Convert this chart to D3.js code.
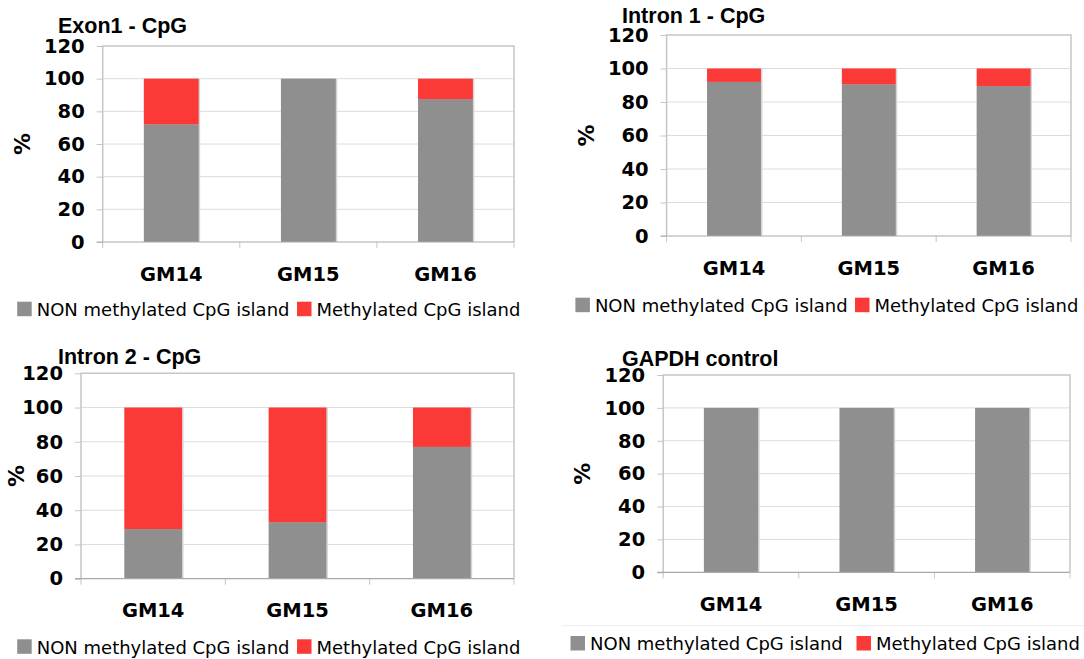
<!DOCTYPE html>
<html>
<head>
<meta charset="utf-8">
<script src="https://cdn.jsdelivr.net/npm/d3@7"></script>
<style>
  html, body { margin: 0; padding: 0; background: #fff; }
  svg { display: block; }
</style>
</head>
<body>
<svg id="chart" width="1084" height="659"></svg>
<script>
// Sample groups and series
const categories = ["GM14", "GM15", "GM16"];
const seriesNames = ["NON methylated CpG island", "Methylated CpG island"];
const yTicks = [0, 20, 40, 60, 80, 100, 120];

// Percent of CpG islands per region
const exon1NonMethylated   = [72, 100, 87.5];
const exon1Methylated      = [28, 0, 12.5];
const intron1NonMethylated = [92, 90.5, 89.5];
const intron1Methylated    = [8, 9.5, 10.5];
const intron2NonMethylated = [29, 33, 77];
const intron2Methylated    = [71, 67, 23];
const gapdhNonMethylated   = [100, 100, 100];
const gapdhMethylated      = [0, 0, 0];

const panelTitles = ["Exon1 - CpG", "Intron 1 - CpG", "Intron 2 - CpG", "GAPDH control"];
const panelSeries = [
  [exon1NonMethylated, exon1Methylated],
  [intron1NonMethylated, intron1Methylated],
  [intron2NonMethylated, intron2Methylated],
  [gapdhNonMethylated, gapdhMethylated]
];

// Panel geometry
const layout = [
  { left: 102.7, right: 514,  top: 46,    zero: 242,   titleX: 58,  titleY: 32.5,
    pctX: 22.4, legX: 17.2, legX2: 297,   legY: 301.7 },
  { left: 666.6, right: 1071, top: 35,    zero: 236,   titleX: 622, titleY: 23,
    pctX: 586,  legX: 575.4, legX2: 855,  legY: 297.7 },
  { left: 81,    right: 514,  top: 373.3, zero: 578.7, titleX: 58,  titleY: 363.5,
    pctX: 16.2, legX: 17.2, legX2: 297,   legY: 639.3 },
  { left: 663.2, right: 1070, top: 375,   zero: 572.3, titleX: 622, titleY: 365.5,
    pctX: 582.2, legX: 570.5, legX2: 856.5, legY: 636 }
];

const colors = ["#8f8f8f", "#fb3a37"];
const labelFont = "'DejaVu Sans', Verdana, sans-serif";
const titleFont = "'Liberation Sans', Arial, Helvetica, sans-serif";

const svg = d3.select("#chart");

// faint rule above the last legend
svg.append("line")
  .attr("x1", 561.5).attr("x2", 1084)
  .attr("y1", 625.7).attr("y2", 625.7)
  .attr("stroke", "#ececec").attr("stroke-width", 1);

layout.forEach((L, pi) => {
  const g = svg.append("g");
  const [nonVals, metVals] = panelSeries[pi];

  const y = d3.scaleLinear().domain([0, 120]).range([L.zero, L.top]);
  const xBand = d3.scaleBand().domain(categories).range([L.left, L.right])
    .paddingInner(0.6).paddingOuter(0.3);
  const xCell = d3.scaleBand().domain(categories).range([L.left, L.right]).padding(0);

  // gridlines
  g.append("g").selectAll("line")
    .data(yTicks.filter(t => t > 0 && t < 120))
    .join("line")
    .attr("x1", L.left).attr("x2", L.right)
    .attr("y1", d => y(d)).attr("y2", d => y(d))
    .attr("stroke", "#dcdcdc").attr("stroke-width", 1);

  // plot frame (top, right, left)
  g.append("path")
    .attr("d", `M${L.left},${L.zero}V${y(120)}H${L.right}V${L.zero}`)
    .attr("fill", "none").attr("stroke", "#c6c6c6").attr("stroke-width", 1.5);

  // stacked bars
  const stacked = categories.map((c, i) => ({ c, non: nonVals[i], met: metVals[i] }));

  // soft shadow along bar edge
  g.append("g").selectAll("rect")
    .data(stacked)
    .join("rect")
    .attr("x", d => xBand(d.c) + 1.5)
    .attr("y", d => y(d.non + d.met))
    .attr("width", xBand.bandwidth())
    .attr("height", d => y(0) - y(d.non + d.met))
    .attr("fill", "#d4d4d4");

  g.append("g").selectAll("rect")
    .data(stacked)
    .join("rect")
    .attr("x", d => xBand(d.c))
    .attr("y", d => y(d.non))
    .attr("width", xBand.bandwidth())
    .attr("height", d => y(0) - y(d.non))
    .attr("fill", colors[0]);

  g.append("g").selectAll("rect")
    .data(stacked.filter(d => d.met > 0))
    .join("rect")
    .attr("x", d => xBand(d.c))
    .attr("y", d => y(d.non + d.met))
    .attr("width", xBand.bandwidth())
    .attr("height", d => y(d.non) - y(d.non + d.met))
    .attr("fill", colors[1]);

  // y axis
  const yAxis = d3.axisLeft(y).tickValues(yTicks).tickSize(6).tickPadding(12);
  const ya = g.append("g").attr("transform", `translate(${L.left},0)`).call(yAxis);
  ya.select(".domain").remove();
  ya.selectAll(".tick line").attr("stroke", "#c6c6c6");
  ya.selectAll(".tick text")
    .attr("fill", "#000")
    .style("font-family", labelFont)
    .style("font-weight", "bold")
    .style("font-size", "19.5px");

  // x axis: boundary ticks between categories
  const boundaries = categories.map(c => xCell(c)).concat([L.right]);
  g.append("g").selectAll("line")
    .data(boundaries)
    .join("line")
    .attr("x1", d => d).attr("x2", d => d)
    .attr("y1", L.zero).attr("y2", L.zero + 6)
    .attr("stroke", "#c6c6c6");
  g.append("line")
    .attr("x1", L.left - 6).attr("x2", L.right)
    .attr("y1", L.zero).attr("y2", L.zero)
    .attr("stroke", "#a9a9a9").attr("stroke-width", 1.2);

  g.append("g").selectAll("text")
    .data(categories)
    .join("text")
    .attr("x", d => xCell(d) + xCell.bandwidth() / 2)
    .attr("y", L.zero + 38.5)
    .attr("text-anchor", "middle")
    .style("font-family", labelFont)
    .style("font-weight", "bold")
    .style("font-size", "19.5px")
    .text(d => d);

  // y axis title
  g.append("text")
    .attr("transform", `translate(${L.pctX},${(L.top + L.zero) / 2}) rotate(-90)`)
    .attr("text-anchor", "middle")
    .attr("dominant-baseline", "central")
    .style("font-family", labelFont)
    .style("font-weight", "bold")
    .style("font-size", "22px")
    .text("%");

  // panel title
  g.append("text")
    .attr("x", L.titleX).attr("y", L.titleY)
    .style("font-family", titleFont)
    .style("font-weight", "bold")
    .style("font-size", "21.5px")
    .text(panelTitles[pi]);

  // legend
  const legXs = [L.legX, L.legX2];
  const leg = g.append("g").selectAll("g")
    .data(seriesNames)
    .join("g")
    .attr("transform", (d, i) => `translate(${legXs[i]},${L.legY})`);
  leg.append("rect")
    .attr("width", 14.5).attr("height", 14.5)
    .attr("fill", (d, i) => colors[i]);
  leg.append("text")
    .attr("x", 19.5).attr("y", 14.3)
    .style("font-family", labelFont)
    .style("font-size", "18px")
    .text(d => d);
});
</script>
</body>
</html>
